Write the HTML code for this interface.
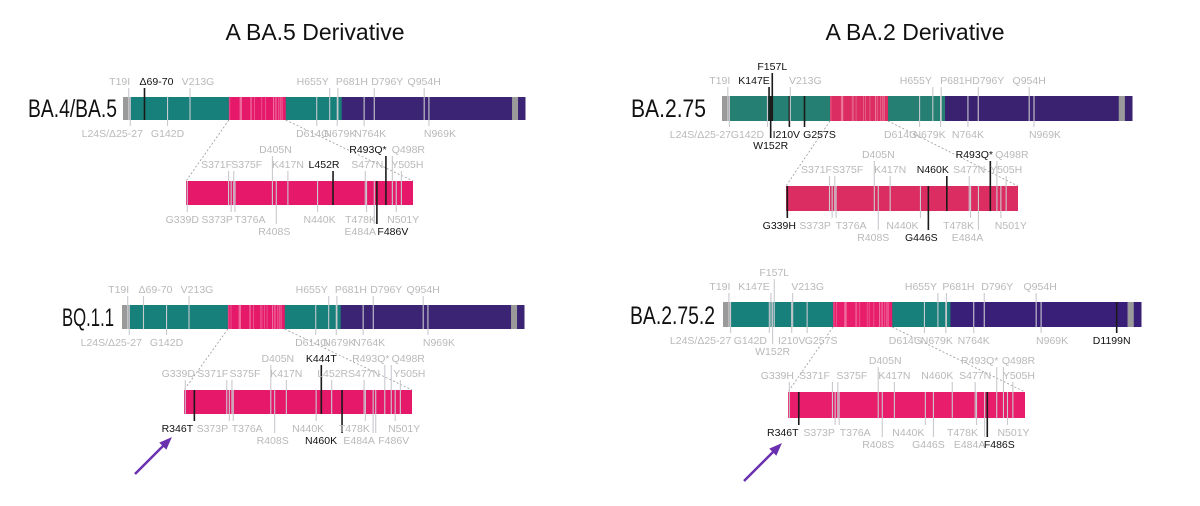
<!DOCTYPE html>
<html><head><meta charset="utf-8">
<style>
html,body{margin:0;padding:0;background:#fff;}
svg{display:block;font-family:"Liberation Sans",sans-serif;}
</style></head>
<body>
<svg id="chart" width="1200" height="506" viewBox="0 0 1200 506" xmlns="http://www.w3.org/2000/svg">
<rect width="1200" height="506" fill="#fff"/>
<text x="315" y="40" font-size="23" text-anchor="middle" fill="#111">A BA.5 Derivative</text>
<text x="915" y="40" font-size="23" text-anchor="middle" fill="#111">A BA.2 Derivative</text>
<line x1="135" y1="474" x2="165" y2="444" stroke="#6a2fae" stroke-width="2.5"/>
<polygon points="170,439 161,443 166,448" fill="#6a2fae" stroke="#6a2fae" stroke-width="2"/>
<line x1="744" y1="481" x2="775" y2="450" stroke="#6a2fae" stroke-width="2.5"/>
<polygon points="780,445 771,449 776,454" fill="#6a2fae" stroke="#6a2fae" stroke-width="2"/>
<g id="g"></g>
</svg>
<script>
// Domain boundaries (residues) along spike
const domainStart = [1, 25, 336, 516, 693, 1232, 1251];
const domainEnd   = [25, 336, 516, 693, 1232, 1251, 1273];
const domainKind  = ['grey','ntd','rbd','ntd','s2','grey','s2'];

// Mutations: [residue, label, side, row, labelShift, isNew]
const ba5Spike = [[19,'T19I','t',0,-9,0],[24,'L24S/Δ25-27','b',0,-18,0],[69,'Δ69-70','t',0,12,1],[142,'G142D','b',0,0,0],[213,'V213G','t',0,8,0],[614,'D614G','b',0,-4,0],[655,'H655Y','t',0,-17,0],[679,'N679K','b',0,3,0],[681,'P681H','t',0,14,0],[764,'N764K','b',0,6,0],[796,'D796Y','t',0,13,0],[954,'Q954H','t',0,0,0],[969,'N969K','b',0,11,0]];
const ba5Rbd = [[339,'G339D','b',0,-5,0],[371,'S371F','t',0,-12,0],[373,'S373P','b',0,-14,0],[375,'S375F','t',0,13,0],[376,'T376A','b',0,15,0],[405,'D405N','t',1,3,0],[408,'R408S','b',1,-2,0],[417,'K417N','t',0,0,0],[440,'N440K','b',0,2,0],[452,'L452R','t',0,-9,1],[477,'S477N','t',0,2,0],[478,'T478K','b',0,-6,0],[484,'E484A','b',1,-14,0],[486,'F486V','b',1,16,1],[493,'R493Q*','t',1,-18,1],[498,'Q498R','t',1,16,0],[501,'N501Y','b',0,7,0],[505,'Y505H','t',0,6,0]];
const bq11Spike = [[19,'T19I','t',0,-9,0],[24,'L24S/Δ25-27','b',0,-18,0],[69,'Δ69-70','t',0,12,0],[142,'G142D','b',0,0,0],[213,'V213G','t',0,8,0],[614,'D614G','b',0,-4,0],[655,'H655Y','t',0,-17,0],[679,'N679K','b',0,3,0],[681,'P681H','t',0,14,0],[764,'N764K','b',0,6,0],[796,'D796Y','t',0,13,0],[954,'Q954H','t',0,0,0],[969,'N969K','b',0,11,0]];
const bq11Rbd = [[339,'G339D','t',0,-7,0],[346,'R346T','b',0,-17,1],[371,'S371F','t',0,-14,0],[373,'S373P','b',0,-17,0],[375,'S375F','t',0,13,0],[376,'T376A','b',0,14,0],[405,'D405N','t',1,7,0],[408,'R408S','b',1,-2,0],[417,'K417N','t',0,0,0],[440,'N440K','b',0,-8,0],[444,'K444T','t',1,0,1],[452,'L452R','t',0,1,0],[460,'N460K','b',1,-21,1],[477,'S477N','t',0,0,0],[478,'T478K','b',0,-11,0],[484,'E484A','b',1,-14,0],[486,'F486V','b',1,18,0],[493,'R493Q*','t',1,-14,0],[498,'Q498R','t',1,17,0],[501,'N501Y','b',0,9,0],[505,'Y505H','t',0,9,0]];
const ba275Spike = [[19,'T19I','t',0,-8,0],[24,'L24S/Δ25-27','b',0,-29,0],[142,'G142D','b',0,-20,0],[147,'K147E','t',0,-15,1],[152,'W152R','b',1,0,1],[157,'F157L','t',1,0,1],[210,'I210V','b',0,-3,1],[213,'V213G','t',0,15,0],[257,'G257S','b',0,15,1],[614,'D614G','b',0,-19,0],[655,'H655Y','t',0,-17,0],[679,'N679K','b',0,-11,0],[681,'P681H','t',0,15,0],[764,'N764K','b',0,0,0],[796,'D796Y','t',0,10,0],[954,'Q954H','t',0,0,0],[969,'N969K','b',0,11,0]];
const ba275Rbd = [[339,'G339H','b',0,-8,1],[371,'S371F','t',0,-13,0],[373,'S373P','b',0,-17,0],[375,'S375F','t',0,13,0],[376,'T376A','b',0,15,0],[405,'D405N','t',1,4,0],[408,'R408S','b',1,-5,0],[417,'K417N','t',0,0,0],[440,'N440K','b',0,-18,0],[446,'G446S','b',1,-7,1],[460,'N460K','t',0,-14,1],[477,'S477N','t',0,0,0],[478,'T478K','b',0,-12,0],[484,'E484A','b',1,-11,0],[493,'R493Q*','t',1,-16,1],[498,'Q498R','t',1,15,0],[501,'N501Y','b',0,10,0],[505,'Y505H','t',0,0,0]];
const ba2752Spike = [[19,'T19I','t',0,-9,0],[24,'L24S/Δ25-27','b',0,-30,0],[142,'G142D','b',0,-19,0],[147,'K147E','t',0,-17,0],[152,'W152R','b',1,0,0],[157,'F157L','t',1,0,0],[210,'I210V','b',0,0,0],[213,'V213G','t',0,15,0],[257,'G257S','b',0,14,0],[614,'D614G','b',0,-19,0],[655,'H655Y','t',0,-17,0],[679,'N679K','b',0,-9,0],[681,'P681H','t',0,12,0],[764,'N764K','b',0,0,0],[796,'D796Y','t',0,13,0],[954,'Q954H','t',0,4,0],[969,'N969K','b',0,11,0],[1199,'D1199N','b',0,-5,1]];
const ba2752Rbd = [[339,'G339H','t',0,-12,0],[346,'R346T','b',0,-16,1],[371,'S371F','t',0,-18,0],[373,'S373P','b',0,-16,0],[375,'S375F','t',0,14,0],[376,'T376A','b',0,16,0],[405,'D405N','t',1,7,0],[408,'R408S','b',1,-4,0],[417,'K417N','t',0,0,0],[440,'N440K','b',0,-17,0],[446,'G446S','b',1,-5,0],[460,'N460K','t',0,-15,0],[477,'S477N','t',0,0,0],[478,'T478K','b',0,-14,0],[484,'E484A','b',1,-15,0],[486,'F486S','b',1,12,1],[493,'R493Q*','t',1,-17,0],[498,'Q498R','t',1,15,0],[501,'N501Y','b',0,6,0],[505,'Y505H','t',0,6,0]];

const panels = [
 {id:'ba4-ba5', name:'BA.4/BA.5', nx:28, ny:117, nw:89, sp:[123,525,97,23], rb:[186,413,181,24], teal:'#17807a', pink:'#e6186a', purple:'#3b2473', spike:ba5Spike, rbd:ba5Rbd},
 {id:'bq11', name:'BQ.1.1', nx:62, ny:326, nw:52, sp:[122,524,305,24], rb:[184,412,390,24], teal:'#17807a', pink:'#e6186a', purple:'#3b2473', spike:bq11Spike, rbd:bq11Rbd},
 {id:'ba275', name:'BA.2.75', nx:631, ny:117, nw:75, sp:[722,1132,96,25], rb:[786,1018,186,25], teal:'#257f72', pink:'#dc2d62', purple:'#3a2270', spike:ba275Spike, rbd:ba275Rbd},
 {id:'ba2752', name:'BA.2.75.2', nx:630, ny:324, nw:85, sp:[723,1141,302,25], rb:[788,1025,392,26], teal:'#17807a', pink:'#e81d6b', purple:'#3a1f78', spike:ba2752Spike, rbd:ba2752Rbd}
];
const NS='http://www.w3.org/2000/svg';
const root=document.getElementById('g');
function mk(tag,attrs,parent){const e=document.createElementNS(NS,tag);for(const k in attrs)e.setAttribute(k,attrs[k]);(parent||root).appendChild(e);return e;}

panels.forEach(p=>{
  const grp=mk('g',{});
  
  
  const [sx0,sx1,sy,sh]=p.sp, [rx0,rx1,ry,rh]=p.rb;
  const sX=r=>sx0+(r-1)*(sx1-sx0)/1272;
  const rX=r=>rx0+(r-338)*(rx1-rx0)/176;
  const lbl=mk('text',{x:p.nx,y:p.ny,'font-size':25,fill:'#111',textLength:p.nw,lengthAdjust:'spacingAndGlyphs'},grp);
  lbl.textContent=p.name;
  
  
  const col={grey:'#9a9a9a',ntd:p.teal,rbd:p.pink,s2:p.purple};
  domainStart.forEach((d,i)=>{
    const x=sX(d), w=sX(domainEnd[i])-x;
    const r=mk('rect',{x:x,y:sy,width:w+0.5,height:sh,fill:col[domainKind[i]]},grp);
    
    
  });
  const rr=mk('rect',{x:rx0,y:ry,width:rx1-rx0,height:rh,fill:p.pink},grp);
  
  
  const g1=mk('line',{x1:sX(336),y1:sy+sh,x2:rx0,y2:ry,stroke:'#999','stroke-dasharray':'2,2','stroke-width':0.8},grp);
  
  
  const g2=mk('line',{x1:sX(516),y1:sy+sh,x2:rx1,y2:ry,stroke:'#999','stroke-dasharray':'2,2','stroke-width':0.8},grp);
  
  
  p.rbd.forEach(m=>{
    const x=sX(m[0]);
    const l=mk('line',{x1:x,y1:sy,x2:x,y2:sy+sh,stroke:'#f4b3c8','stroke-width':0.8,'stroke-opacity':0.45},grp);
    
    
  });
  function drawMuts(list,X,y0,h,rowsT,rowsB,kind){
    list.forEach(m=>{
      const [res,text,side,row,dx,k]=m;
      const x=X(res);
      const base= side==='t' ? y0-rowsT[row] : y0+h+rowsB[row];
      const ya = side==='t' ? base+3 : base-11;
      const yb = side==='t' ? y0+h : y0;
      const ln=mk('line',{x1:x,y1:ya,x2:x,y2:yb,stroke:k?'#1a1a1a':'#c9c9cf','stroke-width':k?1.6:1.1},grp);
      
      
      const t=mk('text',{x:x+dx,y:base,'font-size':10.5,'text-anchor':'middle',fill:k?'#111':'#b9b9b9'},grp);
      t.textContent=text;
      
      
    });
  }
  drawMuts(p.spike,sX,sy,sh,[12,26],[17,28],'spike');
  drawMuts(p.rbd,rX,ry,rh,[13,28],[18,30],'rbd');
});
</script>
</body></html>
